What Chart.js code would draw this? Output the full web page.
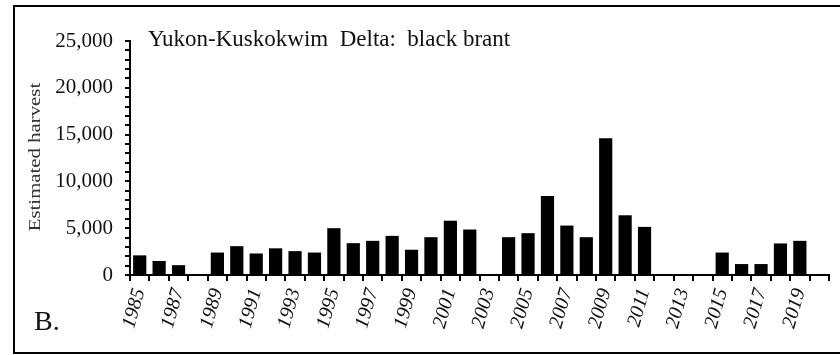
<!DOCTYPE html>
<html>
<head>
  <meta charset="utf-8">
  <title>Yukon-Kuskokwim Delta: black brant</title>
  <script src="https://cdn.jsdelivr.net/npm/chart.js"></script>
  <style>
    body { margin: 0; background: #fff; }
    canvas { display: block; }
  </style>
</head>
<body>
  <canvas id="harvestChart" width="840" height="355"></canvas>

  <script>
    // Estimated harvest by year (null = no estimate)
    const years = [
      1985, 1986, 1987, 1988, 1989, 1990, 1991, 1992, 1993, 1994,
      1995, 1996, 1997, 1998, 1999, 2000, 2001, 2002, 2003, 2004,
      2005, 2006, 2007, 2008, 2009, 2010, 2011, 2012, 2013, 2014,
      2015, 2016, 2017, 2018, 2019, 2020
    ];
    const harvest = [
      2100, 1500, 1050, null, 2400, 3080, 2300, 2850, 2550, 2400,
      5000, 3400, 3650, 4180, 2700, 4040, 5800, 4860, null, 4040,
      4470, 8430, 5280, 4040, 14600, 6380, 5140, null, null, null,
      2400, 1170, 1170, 3370, 3650, null
    ];
    const yMax = 25000;
    const yLabelStep = 5000;

    const chartTitle = 'Yukon-Kuskokwim  Delta:  black brant';
    const yTitle = 'Estimated harvest';
    const panelLabel = 'B.';

    const serif = "'Liberation Serif', 'Times New Roman', serif";

    // frame, title, panel letter and y title
    const decorations = {
      id: 'decorations',
      afterDraw(chart) {
        const ctx = chart.ctx;
        ctx.save();
        ctx.strokeStyle = '#000';
        ctx.lineWidth = 2;
        ctx.strokeRect(14, 6, 840, 347);

        ctx.fillStyle = '#111';
        ctx.textBaseline = 'alphabetic';
        ctx.textAlign = 'left';
        ctx.font = '23px ' + serif;
        ctx.fillText(chartTitle, 148, 46);

        ctx.font = '28px ' + serif;
        ctx.fillText(panelLabel, 34, 330);

        ctx.translate(40, 157);
        ctx.rotate(-Math.PI / 2);
        ctx.scale(1.3, 1);
        ctx.textAlign = 'center';
        ctx.font = '16px ' + serif;
        ctx.fillStyle = '#333';
        ctx.fillText(yTitle, 0, 0);
        ctx.restore();
      }
    };

    const ctx = document.getElementById('harvestChart').getContext('2d');
    new Chart(ctx, {
      type: 'bar',
      data: {
        labels: years,
        datasets: [{
          data: harvest,
          backgroundColor: '#000',
          barPercentage: 0.68,
          categoryPercentage: 1
        }]
      },
      options: {
        responsive: false,
        animation: false,
        layout: { padding: { top: 41, right: 11, left: 0, bottom: 0 } },
        plugins: {
          legend: { display: false },
          tooltip: { enabled: false }
        },
        scales: {
          x: {
            grid: {
              drawOnChartArea: false,
              offset: true,
              color: '#000',
              lineWidth: 2,
              tickLength: 6
            },
            border: { color: '#000', width: 2 },
            ticks: {
              autoSkip: false,
              minRotation: 74,
              maxRotation: 74,
              padding: 5,
              color: '#111',
              font: { family: serif, size: 20, style: 'italic' },
              callback: function (val, i) {
                return years[i] % 2 === 1 ? String(years[i]) : '';
              }
            },
            afterFit(scale) {
              scale.height = 80;
              scale.paddingLeft = 0;
              scale.paddingRight = 0;
            }
          },
          y: {
            min: 0,
            max: yMax,
            grid: {
              drawOnChartArea: false,
              color: '#000',
              lineWidth: 2,
              tickLength: 5
            },
            border: { color: '#000', width: 2 },
            ticks: {
              stepSize: 1000,
              autoSkip: false,
              padding: 12,
              color: '#111',
              font: { family: serif, size: 21 },
              callback: function (v) {
                return v % yLabelStep === 0 ? v.toLocaleString('en-US') : '';
              }
            },
            afterFit(scale) {
              scale.width = 130;
              scale.paddingTop = 0;
              scale.paddingBottom = 0;
            }
          }
        }
      },
      plugins: [decorations]
    });
  </script>
</body>
</html>
